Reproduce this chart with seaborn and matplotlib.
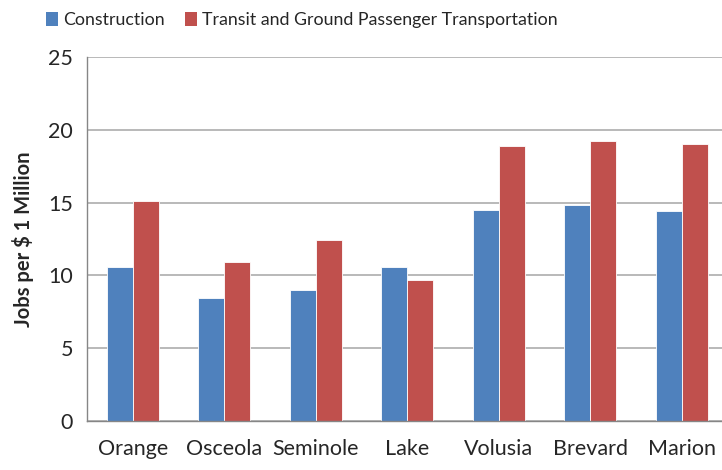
import matplotlib
matplotlib.use("Agg")
import matplotlib.pyplot as plt
import seaborn as sns
import pandas as pd
from matplotlib.patches import Patch

counties = ["Orange", "Osceola", "Seminole", "Lake", "Volusia", "Brevard", "Marion"]
construction = [10.55, 8.45, 9.02, 10.58, 14.50, 14.82, 14.43]
transit = [15.12, 10.94, 12.43, 9.68, 18.90, 19.22, 19.02]
series_names = ["Construction", "Transit and Ground Passenger Transportation"]
colors = ["#4F81BD", "#C0504D"]
yticks = [0, 5, 10, 15, 20, 25]

df = pd.DataFrame({
    "County": counties * 2,
    "Series": [series_names[0]] * len(counties) + [series_names[1]] * len(counties),
    "Value": construction + transit,
})

sns.set_style("white")
plt.rcParams["font.family"] = ["Lato", "DejaVu Sans"]

fig = plt.figure(figsize=(7.22, 4.70), dpi=100)
ax = fig.add_axes([87 / 722, (470 - 421) / 470, 640.5 / 722, 364 / 470])

sns.barplot(data=df, x="County", y="Value", hue="Series", palette=colors,
            width=0.57, gap=0, dodge=True, ax=ax, legend=False,
            edgecolor="white", linewidth=0.6, saturation=1)

ax.set_ylim(0, 25)
ax.set_xlim(-0.5, len(counties) - 0.5)
ax.set_yticks(yticks)
ax.set_yticklabels([str(t) for t in yticks], fontsize=15.5)
ax.yaxis.grid(True, color="#A6A6A6", linewidth=1.1)
ax.set_axisbelow(True)

ax.set_xticks(range(len(counties)))
ax.set_xticklabels(counties, fontsize=15.5)
ax.tick_params(axis="x", length=0, pad=13)
# boundary ticks
ax.set_xticks([i - 0.5 for i in range(len(counties) + 1)], minor=True)
ax.tick_params(axis="x", which="minor", length=6, color="#868686", width=1)
ax.tick_params(axis="y", length=5, color="#868686", width=1, pad=5)

for s in ["top", "right"]:
    ax.spines[s].set_visible(False)
for s in ["left", "bottom"]:
    ax.spines[s].set_color("#868686")
    ax.spines[s].set_linewidth(1)

ax.set_xlabel("")
ax.set_ylabel("Jobs per $ 1 Million", fontsize=14.5, fontweight="bold", labelpad=10)

handles = [Patch(facecolor=c, edgecolor="none") for c in colors]
fig.legend(handles, series_names, loc="upper left", bbox_to_anchor=(34 / 722, 1.0),
           ncol=2, frameon=False, fontsize=12.8, handlelength=0.7, handleheight=0.9,
           handletextpad=0.3, columnspacing=1.1, borderaxespad=0.25)

fig.savefig("out.png", dpi=100)
